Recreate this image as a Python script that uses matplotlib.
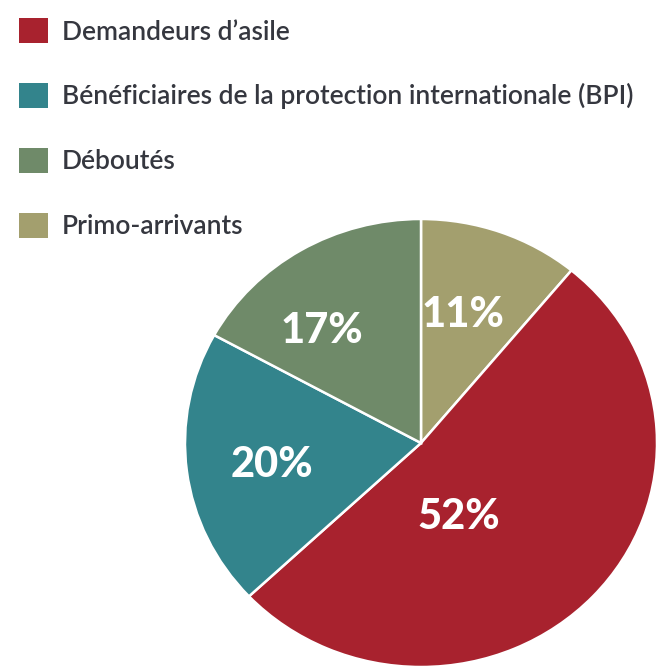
import matplotlib.pyplot as plt
from matplotlib.patches import Patch

# Data
categories = ["Demandeurs d’asile",
              "Bénéficiaires de la protection internationale (BPI)",
              "Déboutés",
              "Primo-arrivants"]
shares = [52, 20, 17, 11]
colors = ["#A8222E", "#33848C", "#6F8A69", "#A39F6E"]

# pie drawn clockwise from 12 o'clock, starting with Primo-arrivants
pie_order = [3, 0, 1, 2]
# label positions in pie coordinates (layout only)
label_pos = {0: (0.16, -0.33), 1: (-0.63, -0.10), 2: (-0.42, 0.50), 3: (0.18, 0.57)}

plt.rcParams['font.family'] = ['Lato', 'DejaVu Sans']
text_color = "#35373F"

fig = plt.figure(figsize=(6.58, 6.67), dpi=100)
ax = fig.add_axes([185 / 658, 0, 472 / 658, 448 / 667])

wedges, _ = ax.pie([shares[i] for i in pie_order],
                   colors=[colors[i] for i in pie_order],
                   startangle=90, counterclock=False, radius=1,
                   wedgeprops=dict(edgecolor='white', linewidth=1.8))
ax.set_aspect('auto')
ax.set_xlim(-1, 1)
ax.set_ylim(-1, 1)

for i in pie_order:
    x, y = label_pos[i]
    ax.text(x, y, f"{shares[i]}%", ha='center', va='center',
            color='white', fontsize=30, fontweight='black')

handles = [Patch(facecolor=c, edgecolor='none') for c in colors]
leg = fig.legend(handles, categories, loc='upper left',
                 bbox_to_anchor=(11 / 658, 1 - 10 / 667),
                 frameon=False, fontsize=19, handlelength=1.1,
                 handleheight=1.1, handletextpad=0.52, labelspacing=1.45,
                 borderaxespad=0, borderpad=0.3)
for t in leg.get_texts():
    t.set_color(text_color)
    t.set_fontweight('semibold')

fig.savefig("out.png", dpi=100)
